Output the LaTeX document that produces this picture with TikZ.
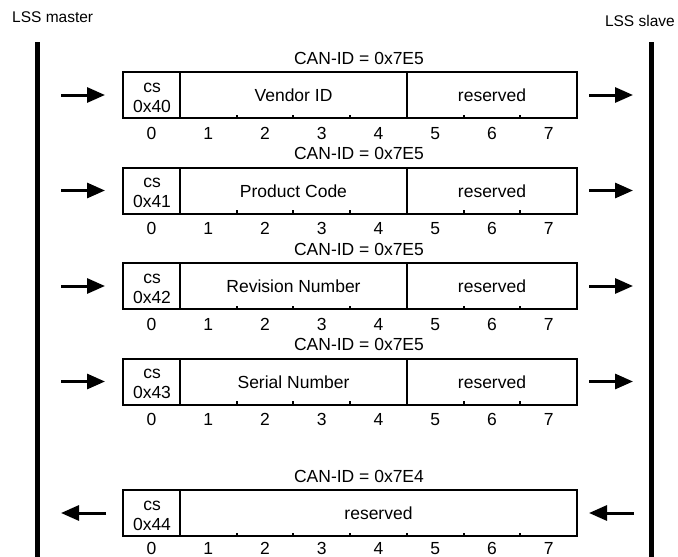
\documentclass[tikz,border=0pt]{standalone}
\usepackage{fontspec}
\setmainfont{Liberation Sans}
\usetikzlibrary{arrows.meta}
\tikzset{
  every node/.style={inner sep=0pt, anchor=base, font=\fontsize{17.5}{20}\selectfont},
  frame/.style={line width=2pt},
  lane/.style={line width=5pt},
  msg/.style={-{Triangle[length=18pt,width=15pt]}, line width=3pt},
  party/.style={font=\fontsize{15.5}{18}\selectfont},
}

\begin{document}
\begin{tikzpicture}[x=1pt,y=-1pt]
\useasboundingbox (0,0) rectangle (678,557);

% Party Labels
  \node[party, anchor=base west] at (12,22.5)(master) {LSS master};
  \node[party, anchor=base east] at (675,26.5)(slave) {LSS slave};

% Life lines
  \coordinate (MT) at (37.5,42);
  \coordinate (MB) at (37.5,557);
  \coordinate (ST) at (651,42);
  \coordinate (SB) at (651,557);
  \draw[lane] (MT) -- (MB);
  \draw[lane] (ST) -- (SB);

%%%%%%%%%%%%%%
% Vendor ID
%%%%%%%%%%%%%%
  \node at (359,64)(id1) {CAN-ID = 0x7E5};

  % box
  \draw[frame] (123,72) rectangle (577,118);
  \draw[frame] (180,72) -- (180,118);
  \draw[frame] (407,72) -- (407,118);
  \foreach \t in {2,3,4,6,7}
    \draw[frame] ({123+56.75*\t},118) -- ++(0,-3.5);

  % fields
  \node at (152,92)(cs1) {cs};
  \node at (152,112)(hex1) {0x40};
  \node at (293.5,101.5)(data1) {Vendor ID};
  \node at (492,101.5)(res1) {reserved};
  \foreach \i in {0,...,7}
    \node at ({151.4+56.75*\i},139.5)(byte1\i) {\i};

  % legs
  \coordinate (A1)  at (61,95);
  \coordinate (B1)  at (105,95);
  \coordinate (C1)  at (589,95);
  \coordinate (D1)  at (633,95);
  \draw[msg] (A1) -- (B1);
  \draw[msg] (C1) -- (D1);

%%%%%%%%%%%%%%
% Product Code
%%%%%%%%%%%%%%
  \node at (359,159.5)(id2) {CAN-ID = 0x7E5};

  % box
  \draw[frame] (123,167.5) rectangle (577,213.5);
  \draw[frame] (180,167.5) -- (180,213.5);
  \draw[frame] (407,167.5) -- (407,213.5);
  \foreach \t in {2,3,4,6,7}
    \draw[frame] ({123+56.75*\t},213.5) -- ++(0,-3.5);

  % fields
  \node at (152,187.5)(cs2) {cs};
  \node at (152,207.5)(hex2) {0x41};
  \node at (293.5,197)(data2) {Product Code};
  \node at (492,197)(res2) {reserved};
  \foreach \i in {0,...,7}
    \node at ({151.4+56.75*\i},234.5)(byte2\i) {\i};

  % legs
  \coordinate (A2)  at (61,190.5);
  \coordinate (B2)  at (105,190.5);
  \coordinate (C2)  at (589,190.5);
  \coordinate (D2)  at (633,190.5);
  \draw[msg] (A2) -- (B2);
  \draw[msg] (C2) -- (D2);

%%%%%%%%%%%%%%
% Revision Number
%%%%%%%%%%%%%%
  \node at (359,255)(id3) {CAN-ID = 0x7E5};

  % box
  \draw[frame] (123,263) rectangle (577,309);
  \draw[frame] (180,263) -- (180,309);
  \draw[frame] (407,263) -- (407,309);
  \foreach \t in {2,3,4,6,7}
    \draw[frame] ({123+56.75*\t},309) -- ++(0,-3.5);

  % fields
  \node at (152,283)(cs3) {cs};
  \node at (152,303)(hex3) {0x42};
  \node at (293.5,292.5)(data3) {Revision Number};
  \node at (492,292.5)(res3) {reserved};
  \foreach \i in {0,...,7}
    \node at ({151.4+56.75*\i},330)(byte3\i) {\i};

  % legs
  \coordinate (A3)  at (61,286);
  \coordinate (B3)  at (105,286);
  \coordinate (C3)  at (589,286);
  \coordinate (D3)  at (633,286);
  \draw[msg] (A3) -- (B3);
  \draw[msg] (C3) -- (D3);

%%%%%%%%%%%%%%
% Serial Number
%%%%%%%%%%%%%%
  \node at (359,350.5)(id4) {CAN-ID = 0x7E5};

  % box
  \draw[frame] (123,358.5) rectangle (577,404.5);
  \draw[frame] (180,358.5) -- (180,404.5);
  \draw[frame] (407,358.5) -- (407,404.5);
  \foreach \t in {2,3,4,6,7}
    \draw[frame] ({123+56.75*\t},404.5) -- ++(0,-3.5);

  % fields
  \node at (152,378.5)(cs4) {cs};
  \node at (152,398.5)(hex4) {0x43};
  \node at (293.5,388)(data4) {Serial Number};
  \node at (492,388)(res4) {reserved};
  \foreach \i in {0,...,7}
    \node at ({151.4+56.75*\i},425.5)(byte4\i) {\i};

  % legs
  \coordinate (A4)  at (61,381.5);
  \coordinate (B4)  at (105,381.5);
  \coordinate (C4)  at (589,381.5);
  \coordinate (D4)  at (633,381.5);
  \draw[msg] (A4) -- (B4);
  \draw[msg] (C4) -- (D4);

%%%%%%%%%%%%%%
% Response
%%%%%%%%%%%%%%
  \node at (359,482)(id5) {CAN-ID = 0x7E4};

  % box
  \draw[frame] (123,490) rectangle (577,536);
  \draw[frame] (180,490) -- (180,536);
  \foreach \t in {2,...,7}
    \draw[frame] ({123+56.75*\t},536) -- ++(0,-3.5);

  % fields
  \node at (152,510)(cs5) {cs};
  \node at (152,530)(hex5) {0x44};
  \node at (378.5,519.5)(res5) {reserved};
  \foreach \i in {0,...,7}
    \node at ({151.4+56.75*\i},554)(byte5\i) {\i};

  % legs
  \coordinate (A5)  at (106,513);
  \coordinate (B5)  at (61,513);
  \coordinate (C5)  at (634,513);
  \coordinate (D5)  at (589,513);
  \draw[msg] (A5) -- (B5);
  \draw[msg] (C5) -- (D5);

\end{tikzpicture}
\end{document}
